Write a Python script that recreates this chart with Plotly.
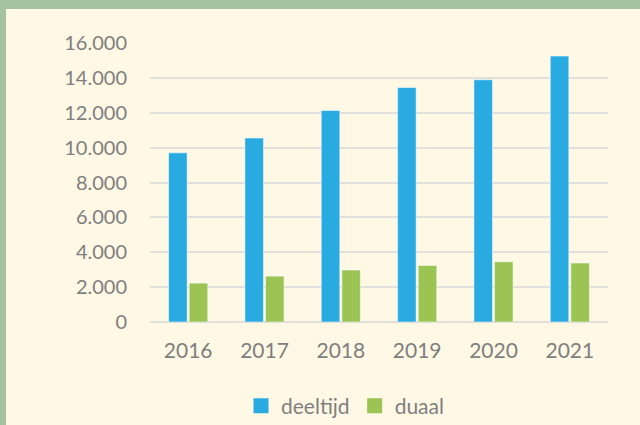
import plotly.graph_objects as go

years = ["2016", "2017", "2018", "2019", "2020", "2021"]
deeltijd = [9700, 10550, 12130, 13450, 13890, 15250]
duaal = [2230, 2630, 2980, 3240, 3450, 3380]
y_ticks = [0, 2000, 4000, 6000, 8000, 10000, 12000, 14000, 16000]
y_tick_labels = ["0", "2.000", "4.000", "6.000", "8.000", "10.000", "12.000", "14.000", "16.000"]

CREAM = "#FEF8E5"
GREEN_BORDER = "#A6C3A0"
FONT = "Lato, Open Sans, sans-serif"
GRAY = "#7F7F7F"
BLUE = "#29ABE2"
LGREEN = "#9BC455"

fig = go.Figure()
fig.add_trace(go.Bar(name="deeltijd", x=years, y=deeltijd, showlegend=False,
                     marker=dict(color=BLUE, line=dict(color="rgba(255,255,255,0.5)", width=1))))
fig.add_trace(go.Bar(name="duaal", x=years, y=duaal, showlegend=False,
                     marker=dict(color=LGREEN, line=dict(color="rgba(255,255,255,0.5)", width=1))))
# legend entries with larger square symbols
fig.add_trace(go.Scatter(name="deeltijd", x=[None], y=[None], mode="markers",
                         marker=dict(symbol="square", size=15, color=BLUE)))
fig.add_trace(go.Scatter(name="duaal", x=[None], y=[None], mode="markers",
                         marker=dict(symbol="square", size=15, color=LGREEN)))

L, R, T, B = 150, 32, 43, 103
W, H = 640, 425
pw, ph = W - L - R, H - T - B

def px_x(x):
    return (x - L) / pw

def px_y(y):
    return (H - B - y) / ph

fig.update_layout(
    width=W, height=H,
    margin=dict(l=L, r=R, t=T, b=B, autoexpand=False),
    paper_bgcolor=CREAM,
    plot_bgcolor="rgba(0,0,0,0)",
    barmode="group",
    bargap=0.46,
    bargroupgap=0.1,
    font=dict(family=FONT, color=GRAY),
    showlegend=True,
    legend=dict(orientation="h", x=px_x(345), xanchor="center", y=px_y(406), yanchor="middle",
                font=dict(size=21, color=GRAY), bgcolor="rgba(0,0,0,0)"),
    shapes=[
        dict(type="rect", xref="paper", yref="paper", x0=px_x(0), x1=px_x(W), y0=px_y(9), y1=px_y(0),
             fillcolor=GREEN_BORDER, line=dict(width=0), layer="below"),
        dict(type="rect", xref="paper", yref="paper", x0=px_x(0), x1=px_x(6), y0=px_y(H), y1=px_y(0),
             fillcolor=GREEN_BORDER, line=dict(width=0), layer="below"),
    ],
)
fig.update_xaxes(showgrid=False, showline=False, zeroline=False,
                 tickfont=dict(size=21, color=GRAY), ticklabelstandoff=14)
fig.update_yaxes(range=[0, 16000], tickvals=y_ticks, ticktext=y_tick_labels,
                 showgrid=True, gridcolor="#E2E0DA", gridwidth=1.5,
                 zeroline=True, zerolinecolor="#E2E0DA", zerolinewidth=1.5,
                 showline=False, tickfont=dict(size=20, color=GRAY), ticklabelstandoff=22)

fig.write_html("out.html", config={"displayModeBar": False},
               post_script="document.body.style.margin='0';document.body.style.padding='0';")
